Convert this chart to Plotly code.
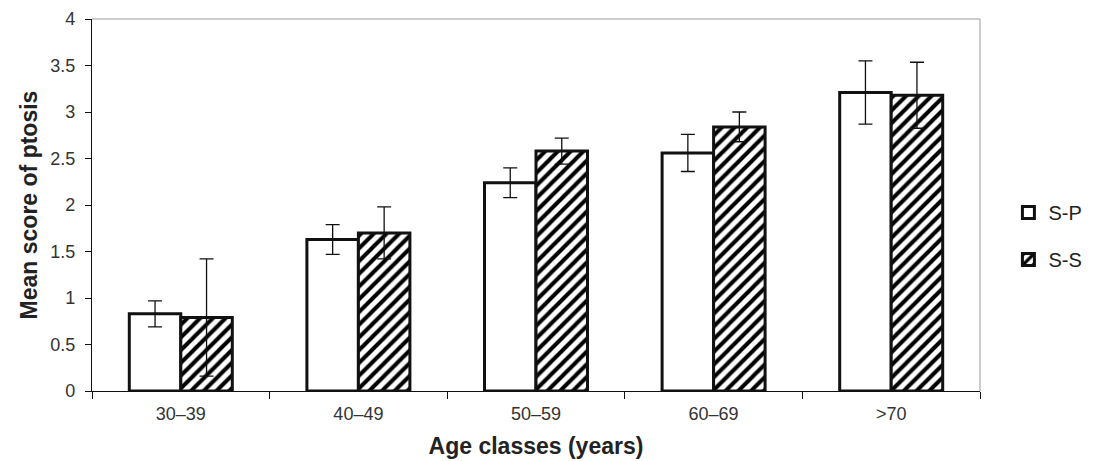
import plotly.graph_objects as go

categories = ["30–39", "40–49", "50–59", "60–69", ">70"]
sp_values = [0.83, 1.63, 2.24, 2.56, 3.21]
sp_errors = [0.14, 0.16, 0.16, 0.20, 0.34]
ss_values = [0.79, 1.70, 2.58, 2.84, 3.18]
ss_errors = [0.63, 0.28, 0.14, 0.16, 0.355]
series_names = ["S-P", "S-S"]
y_ticks = [0, 0.5, 1, 1.5, 2, 2.5, 3, 3.5, 4]

FONT = "Liberation Sans, Arial, sans-serif"

fig = go.Figure()
fig.add_trace(go.Bar(
    name=series_names[0], x=categories, y=sp_values, legendgroup="a",
    marker=dict(color="white", line=dict(color="#111", width=3)),
    error_y=dict(type="data", array=sp_errors, color="#111", thickness=1.3, width=7),
))
fig.add_trace(go.Bar(
    name=series_names[1], x=categories, y=ss_values, legendgroup="b",
    marker=dict(color="white", line=dict(color="#111", width=3),
                pattern=dict(shape="/", size=9, solidity=0.45, fgcolor="#000",
                             bgcolor="white", fgopacity=1)),
    error_y=dict(type="data", array=ss_errors, color="#111", thickness=1.3, width=7),
))

fig.update_layout(
    width=1099, height=461,
    margin=dict(l=92, r=113, t=19, b=70),
    paper_bgcolor="white", plot_bgcolor="white",
    barmode="group", bargap=0.42, bargroupgap=0,
    font=dict(family=FONT, size=18, color="#222"),
    legend=dict(x=1.032, y=0.417, xanchor="left", yanchor="middle",
                font=dict(size=20, color="#222"), tracegroupgap=18),
    shapes=[
        dict(type="line", xref="paper", yref="paper", x0=0, x1=1, y0=1, y1=1,
             line=dict(color="#999", width=1)),
        dict(type="line", xref="paper", yref="paper", x0=1, x1=1, y0=0, y1=1,
             line=dict(color="#999", width=1)),
    ],
)
fig.update_xaxes(
    automargin=False,
    showline=True, linecolor="#111", linewidth=1.2,
    ticks="outside", ticklen=7, tickcolor="#111", tickson="boundaries",
    ticklabelstandoff=6,
    showgrid=False,
    title=dict(text="<b>Age classes (years)</b>", font=dict(size=23, color="#222"), standoff=15),
    tickfont=dict(size=18, color="#333"),
)
fig.update_yaxes(
    automargin=False,
    range=[0, 4], tickvals=y_ticks,
    showline=True, linecolor="#111", linewidth=1.2,
    ticks="outside", ticklen=6, tickcolor="#111",
    ticklabelstandoff=6,
    showgrid=False, zeroline=False,
    title=dict(text="<b>Mean score of ptosis</b>", font=dict(size=23, color="#222"), standoff=6),
    tickfont=dict(size=18, color="#333"),
)

fig.write_html("out.html", config={"displayModeBar": False},
               post_script="document.body.style.margin='0';")
